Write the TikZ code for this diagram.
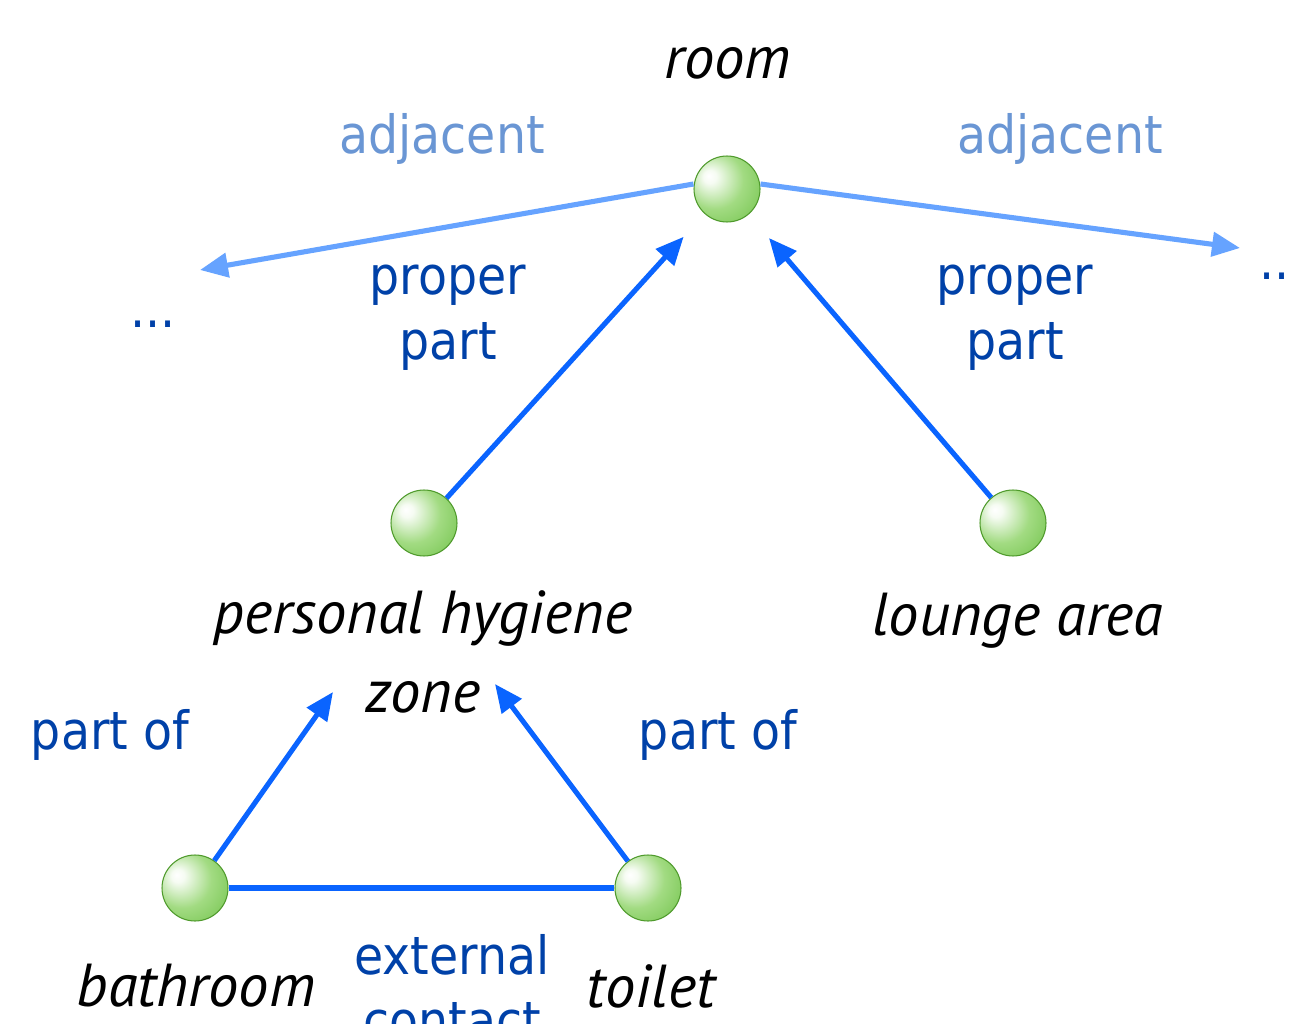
\documentclass[tikz,border=0pt]{standalone}
\usepackage{fontspec}
\usetikzlibrary{arrows.meta,positioning}
\newfontfamily\relfont{DejaVu Sans}[FakeStretch=0.9]
\newfontfamily\namefont{PT Sans}
\definecolor{adjtext}{HTML}{6A96D4}
\definecolor{adjline}{HTML}{66A3FF}
\definecolor{reltext}{HTML}{0041A8}
\definecolor{relline}{HTML}{0A64FF}
\definecolor{ballA}{HTML}{A2DB82}
\definecolor{ballB}{HTML}{60BA38}
\definecolor{ballrim}{HTML}{4F9A2C}
\pgfdeclareradialshading{greenball}{\pgfpoint{-14bp}{10bp}}{color(0bp)=(white); color(5bp)=(white!90!ballA); color(22bp)=(ballA); color(50bp)=(ballB); color(70bp)=(ballB)}
\tikzset{
  ball/.style={circle,draw=ballrim,line width=0.6pt,shading=greenball,minimum size=1.32cm,inner sep=0pt},
  partname/.style={font=\namefont\itshape\fontsize{34.5}{45}\selectfont,align=center,inner sep=0pt},
  rel/.style={font=\relfont\fontsize{30}{37}\selectfont,text=reltext,align=center,inner sep=0pt},
  adjlabel/.style={rel,text=adjtext},
  partof/.style={line width=2.9pt,draw=relline,-{Triangle[length=0.56cm,width=0.48cm]}},
  adjacent/.style={line width=2.9pt,draw=adjline,-{Triangle[length=0.56cm,width=0.48cm]}}
}
\begin{document}
\begin{tikzpicture}[x=0.02cm,y=-0.02cm]
  \useasboundingbox (0,0) rectangle (1289,1024);
  % the parts
  \node[ball] (room) at (727,189) {};
  \node[ball] (hygiene) at (424,523) {};
  \node[ball] (lounge) at (1013,523) {};
  \node[ball] (bathroom) at (195,888) {};
  \node[ball] (toilet) at (648,888) {};
  % their names
  \node[partname] (roomname) at (728,63) {room};
  \node[partname] (hygienename) at (423,652) {personal hygiene\\zone};
  \node[partname] (loungename) at (1018,621) {lounge area};
  \node[partname] (bathroomname) at (196,986) {bathroom};
  \node[partname] (toiletname) at (651,986) {toilet};
  % free ends
  \coordinate (leftend) at (200,270);
  \coordinate (rightend) at (1240,248);
  \coordinate (zoneleft) at (333,692);
  \coordinate (zoneright) at (495,684);
  \node[rel] (leftdots) at (153,324) {...};
  \node[rel,anchor=west] (rightdots) at (1259,276) {...};
  % relations
  \draw[adjacent] (room.west) ++(0,-5) -- (leftend);
  \draw[adjacent] (room.east) ++(0,-5) -- (rightend);
  \draw[partof,shorten >=0.62cm] (hygiene) -- (room);
  \draw[partof,shorten >=0.62cm] (lounge) -- (room);
  \draw[partof] (bathroom) -- (zoneleft);
  \draw[partof] (toilet) -- (zoneright);
  \draw[line width=2.9pt,draw=relline] (bathroom) -- (toilet);
  % relation labels
  \node[adjlabel] (adjleft) at (442,139) {adjacent};
  \node[adjlabel] (adjright) at (1060,139) {adjacent};
  \node[rel] (properleft) at (448,318) {proper\\part};
  \node[rel] (properright) at (1015,318) {proper\\part};
  \node[rel] (partleft) at (110,735) {part of};
  \node[rel] (partright) at (718,735) {part of};
  \node[rel] (contact) at (452,987) {external\\contact};
\end{tikzpicture}
\end{document}
